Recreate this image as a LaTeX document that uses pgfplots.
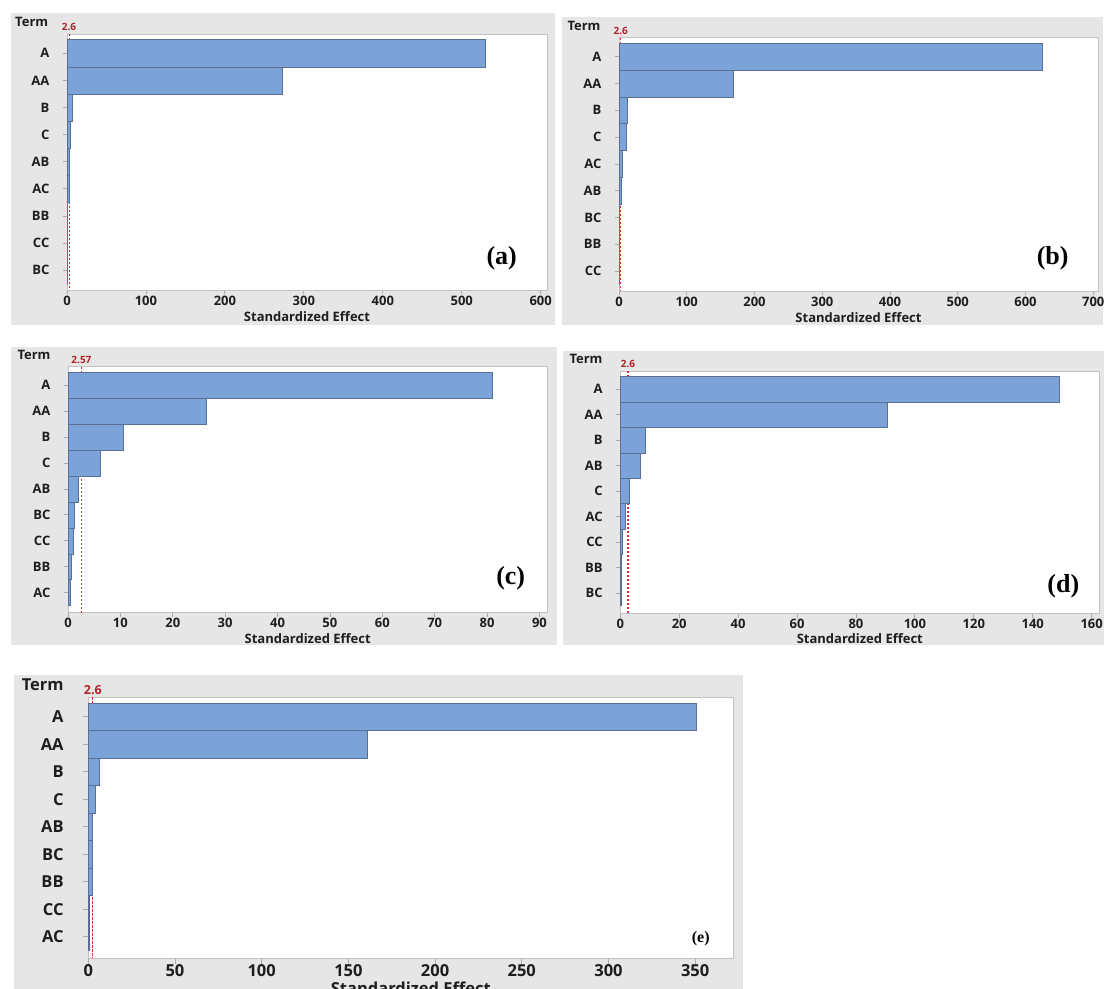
\documentclass[border=0pt]{standalone}
\usepackage{pgfplots}
\pgfplotsset{compat=1.18}
\usepackage{fontspec}
\setmainfont{Open Sans}
\newfontfamily\tnr{Liberation Serif}
\definecolor{panelgray}{RGB}{230,230,230}
\definecolor{bordergray}{RGB}{195,195,195}
\definecolor{tickgray}{RGB}{170,170,170}
\definecolor{barblue}{RGB}{123,163,216}
\definecolor{baredge}{RGB}{88,112,148}
\definecolor{reflred}{RGB}{225,45,50}
\definecolor{labelred}{RGB}{175,35,40}
\definecolor{labelblack}{RGB}{30,30,30}
\newcommand\fs{\bfseries\fontsize{13bp}{15bp}\selectfont}
\newcommand\fsE{\bfseries\fontsize{16.5bp}{19bp}\selectfont}
\newcommand\fsr{\bfseries\fontsize{10bp}{12bp}\selectfont}
\newcommand\fsrE{\bfseries\fontsize{12.5bp}{15bp}\selectfont}
\pgfplotsset{
  effstyle/.style={
    scale only axis, anchor=north west,
    y dir=reverse, xmin=0, ymin=-0.71,
    ytick={0,...,8},
    axis background/.style={fill=white},
    axis line style={draw=bordergray, line width=0.9bp},
    tick style={draw=tickgray, line width=0.8bp},
    major tick length=4.5bp,
    tick align=outside, tick pos=left,
    clip=false,
    xticklabel style={font=\fs, text=labelblack, inner sep=0pt, anchor=north, yshift=-1bp},
    yticklabel style={font=\fs, text=labelblack, inner sep=0pt, anchor=east, xshift=-13bp},
    /pgf/number format/assume math mode=true,
    /pgf/number format/set thousands separator={},
    xlabel style={font=\fs, text=labelblack, at={(axis description cs:0.5,0)}, anchor=center},
    xlabel={Standardized Effect},
  },
  effbar/.style={xbar, bar width=1, fill=barblue, draw=baredge, line width=0.5bp},
  effref/.style={color=reflred, draw=reflred, dash pattern=on 2.5bp off 1.5bp, line width=1.1bp, forget plot},
}
\begin{document}
\begin{tikzpicture}[x=1bp,y=1bp]
\useasboundingbox (0,0) rectangle (1104,989);
\fill[white] (0,0) rectangle (1104,989);
\fill[panelgray] (11,664) rectangle (555,976);
\fill[panelgray] (562,664) rectangle (1103,972);
\fill[panelgray] (11,344) rectangle (557,642);
\fill[panelgray] (563,344) rectangle (1104,638);
\fill[panelgray] (14,0) rectangle (743,314);
\coordinate (pa) at (67,955);
\coordinate (pb) at (619,951.3);
\coordinate (pc) at (68,622.3);
\coordinate (pd) at (620.3,618);
\coordinate (pe) at (88.3,291.7);

% (a)
\begin{axis}[effstyle, at={(pa)}, width=480bp, height=256bp,
  xmax=608, ymax=8.73, xtick={0,100,...,600},
  yticklabels={A,AA,B,C,AB,AC,BB,CC,BC},
  xlabel style={yshift=-26.7bp}]
\addplot[effref] coordinates {(2.6,-0.71) (2.6,8.73)};
\addplot[effbar] coordinates {(530,0) (273,1) (7,2) (4.6,3) (3.4,4) (2.5,5) (0.8,6) (0.3,7) (0.2,8)};
\node[font=\fsr, text=labelred, anchor=base, yshift=3bp] at (axis cs:2.6,-0.71) {2.6};
\end{axis}
\node[font=\fs, text=labelblack] at (31.7,967.3) {Term};
\node[font=\tnr\fontsize{26bp}{28bp}\selectfont\bfseries] at (501.7,730.7) {(a)};

% (b)
\begin{axis}[effstyle, at={(pb)}, width=479bp, height=253.3bp,
  xmax=707, ymax=8.74, xtick={0,100,...,700},
  yticklabels={A,AA,B,C,AC,AB,BC,BB,CC},
  xlabel style={yshift=-26.3bp}]
\addplot[effref] coordinates {(2.6,-0.71) (2.6,8.74)};
\addplot[effbar] coordinates {(625,0) (168,1) (12.3,2) (10.3,3) (5,4) (3.5,5) (0.5,6) (0.3,7) (0.2,8)};
\node[font=\fsr, text=labelred, anchor=base, yshift=3bp] at (axis cs:2.6,-0.71) {2.6};
\end{axis}
\node[font=\fs, text=labelblack] at (584,963.3) {Term};
\node[font=\tnr\fontsize{26bp}{28bp}\selectfont\bfseries] at (1052.7,731) {(b)};

% (c)
\begin{axis}[effstyle, at={(pc)}, width=479.3bp, height=246bp,
  xmax=91.5, ymax=8.77, xtick={0,10,...,90},
  yticklabels={A,AA,B,C,AB,BC,CC,BB,AC},
  xlabel style={yshift=-25.6bp}]
\addplot[effref] coordinates {(2.57,-0.71) (2.57,8.77)};
\addplot[effbar] coordinates {(80.9,0) (26.4,1) (10.6,2) (6.2,3) (2.0,4) (1.27,5) (0.95,6) (0.57,7) (0.44,8)};
\node[font=\fsr, text=labelred, anchor=base, yshift=3bp] at (axis cs:2.57,-0.71) {2.57};
\end{axis}
\node[font=\fs, text=labelblack] at (34,634) {Term};
\node[font=\tnr\fontsize{26bp}{28bp}\selectfont\bfseries] at (510.7,410.7) {(c)};

% (d)
\begin{axis}[effstyle, at={(pd)}, width=479bp, height=242.3bp,
  xmax=162.6, ymax=8.8, xtick={0,20,...,160},
  yticklabels={A,AA,B,AB,C,AC,CC,BB,BC},
  xlabel style={yshift=-25.7bp}]
\addplot[effref] coordinates {(2.6,-0.71) (2.6,8.8)};
\addplot[effbar] coordinates {(149,0) (90.5,1) (8.6,2) (6.8,3) (2.9,4) (1.6,5) (0.8,6) (0.45,7) (0.2,8)};
\node[font=\fsr, text=labelred, anchor=base, yshift=3bp] at (axis cs:2.6,-0.71) {2.6};
\end{axis}
\node[font=\fs, text=labelblack] at (586,630) {Term};
\node[font=\tnr\fontsize{26bp}{28bp}\selectfont\bfseries] at (1063.3,403) {(d)};

% (e)
\begin{axis}[effstyle, at={(pe)}, width=645bp, height=261bp,
  xmax=372, ymax=8.79, xtick={0,50,...,350},
  yticklabels={A,AA,B,C,AB,BC,BB,CC,AC},
  xticklabel style={font=\fsE},
  yticklabel style={font=\fsE, xshift=-6bp},
  major tick length=5.5bp,
  xlabel style={font=\fsE, yshift=-30bp}]
\addplot[effref] coordinates {(2.6,-0.71) (2.6,8.79)};
\addplot[effbar] coordinates {(350.5,0) (161,1) (6.6,2) (3.8,3) (2.3,4) (2.2,5) (2.1,6) (0.5,7) (0.4,8)};
\node[font=\fsrE, text=labelred, anchor=base, yshift=3bp] at (axis cs:2.6,-0.71) {2.6};
\end{axis}
\node[font=\fsE, text=labelblack] at (42.7,304) {Term};
\node[font=\tnr\fontsize{16bp}{18bp}\selectfont\bfseries] at (700.7,50.7) {(e)};
\end{tikzpicture}
\end{document}
